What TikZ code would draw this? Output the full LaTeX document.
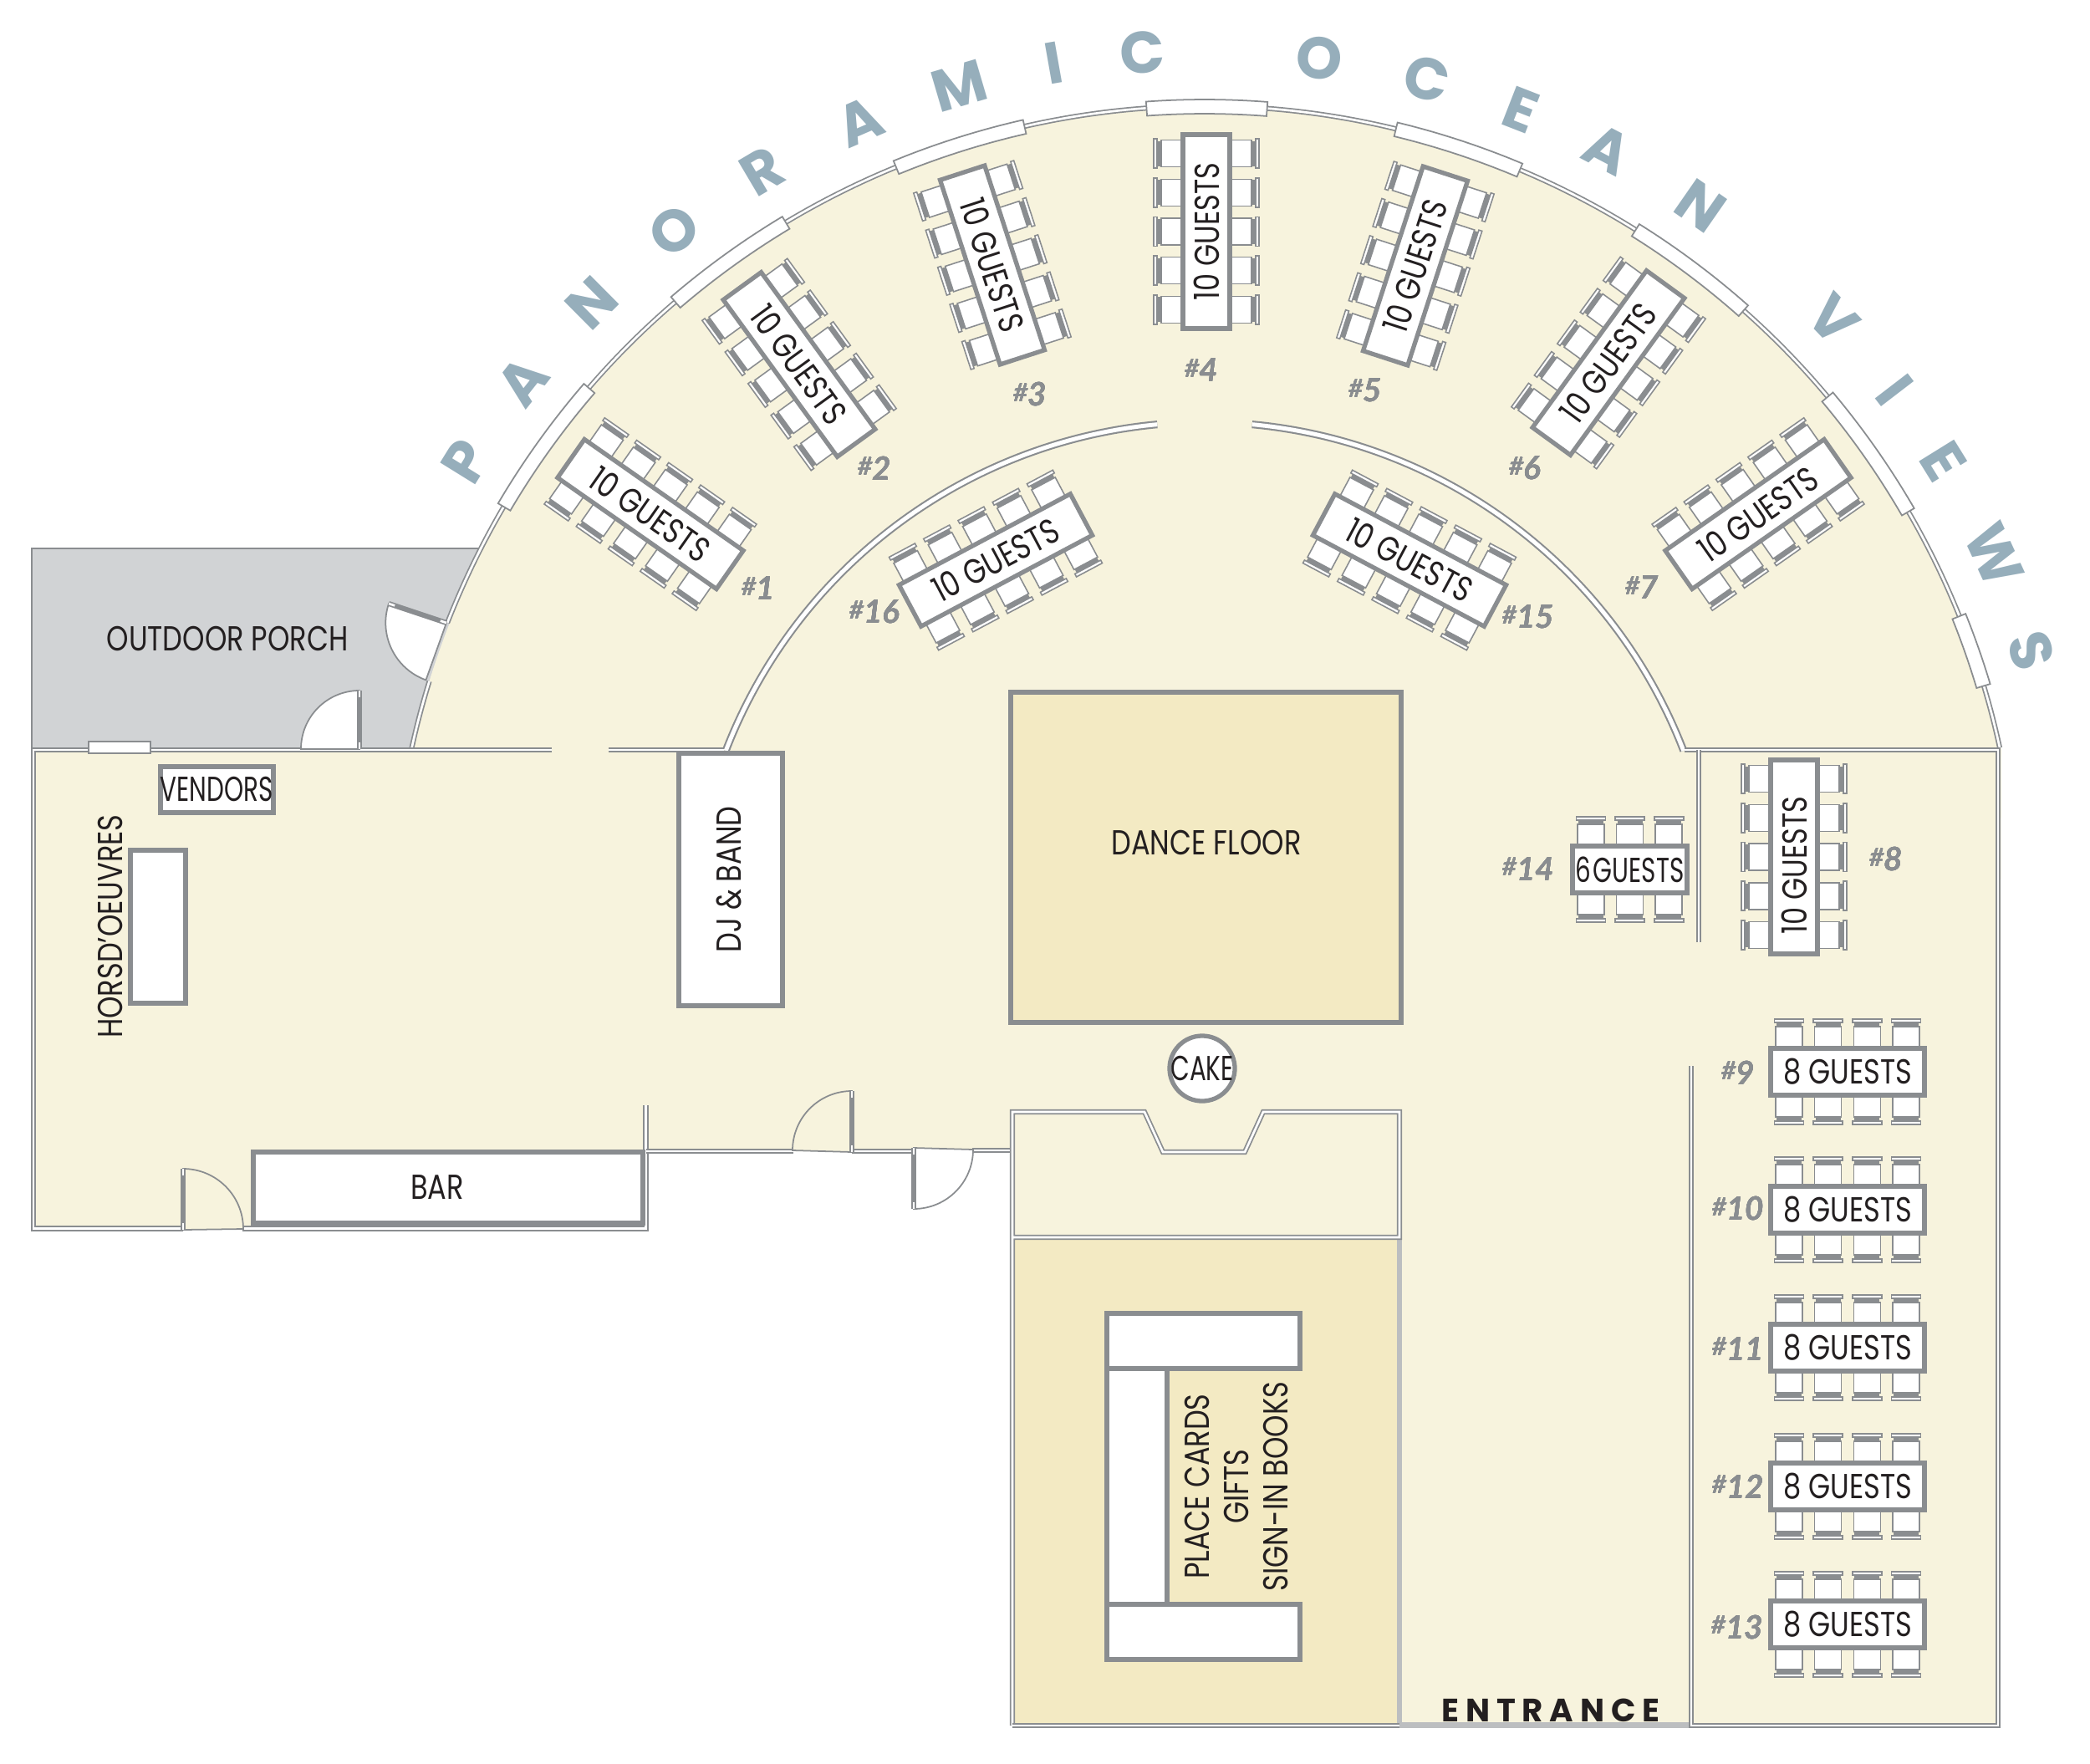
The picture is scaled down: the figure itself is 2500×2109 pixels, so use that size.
\documentclass[tikz,border=0pt]{standalone}
\usepackage{fontspec}
\usepackage{xcolor}
\usepackage{tikz}
\setmainfont{Lato}
\newfontfamily\labelfont[FakeStretch=0.81]{Poppins}
\newfontfamily\tightfont[FakeStretch=0.71]{Poppins}
\newfontfamily\numfont{Lato}
\newfontfamily\titlefont{Poppins}
\definecolor{cream}{HTML}{F7F3DD}
\definecolor{sand}{HTML}{F3EAC3}
\definecolor{wallgray}{HTML}{8A8D90}
\definecolor{paleline}{HTML}{BCBEC0}
\definecolor{porchgray}{HTML}{D1D3D5}
\definecolor{oceanteal}{HTML}{96AEBB}
\definecolor{ink}{HTML}{231F20}
\tikzset{
  wall/.style={draw=wallgray, line width=.5pt, double=white, double distance=.75pt},
  thickwall/.style={draw=wallgray, line width=.6pt, double=white, double distance=1.4pt},
  paleedge/.style={draw=paleline, line width=1.8pt},
  pane/.style={draw=wallgray, fill=white, line width=.5pt},
  doorleaf/.style={draw=wallgray, line width=.5pt},
  furniture/.style={draw=wallgray, fill=white, line width=1.5pt},
  seatpad/.style={draw=wallgray, fill=white, line width=.45pt},
  seatrail/.style={draw=wallgray, fill=white, line width=.45pt},
  roomtext/.style={text=ink, inner sep=0pt, font=\labelfont\fontsize{11.8}{13.4}\selectfont},
  tablebox/.style={furniture, text=ink, inner sep=0pt, minimum height=.56cm,
    font=\labelfont\fontsize{11.8}{14}\selectfont},
  tablenum/.style={text=wallgray, inner sep=0pt, font=\numfont\bfseries\itshape\fontsize{11}{13}\selectfont},
  titleletter/.style={text=oceanteal, inner sep=0pt, font=\titlefont\bfseries\fontsize{20}{22}\selectfont},
  chair/.pic={
    \draw[seatpad] (-16,0) rectangle (16,26);
    \fill[wallgray] (-15,26) rectangle (15,31);
    \draw[seatrail] (-17.5,31) rectangle (17.5,35);
  }
}
\newcommand{\swingdoor}[6]{% hinge, leaf end, start angle, end angle, radius, fill
  \draw[doorleaf, fill=#6] #1 -- #2 arc[start angle=#3, end angle=#4, radius=#5] -- cycle;
  \draw[wall] #1 -- #2;
  \draw[wallgray, line width=1.2pt, shorten >=2.2pt, shorten <=2.2pt] #1 -- #2;
}
\newcommand{\guesttable}[7]{% name, x, y, turn, chairs a side, length, label
  \begin{scope}[shift={(#2,#3)}, rotate=#4]
    \foreach \k in {1,...,#5} {
      \pic[transform shape] at ({(\k-(#5+1)/2)*46.7},28) {chair};
      \pic[transform shape, yscale=-1] at ({(\k-(#5+1)/2)*46.7},-28) {chair};
    }
    \node[tablebox, minimum width={#6*0.01cm}, rotate=-#4] (#1) at (0,0) {#7};
  \end{scope}
}
\newcommand{\numtag}[1]{{\fontsize{8.5}{10}\selectfont\raisebox{.35ex}{\#}}#1}
\begin{document}
\begin{tikzpicture}[x=0.01cm, y=0.01cm, yscale=-1]
  \useasboundingbox (0,0) rectangle (2500,2109);
  % floors
  \fill[porchgray] (38,656) -- (574,656) -- (492,897) -- (38,897) -- cycle;
  \draw[wallgray, line width=.55pt] (574,656) -- (38,656) -- (38,897);
  \fill[cream] (40,897) -- (492,897) arc[start angle=-167.8, end angle=-12.2, radius=973]
    -- (2390,2064) -- (1211,2064) -- (1211,1377) -- (772,1377) -- (772,1469) -- (40,1469) -- cycle;
  \fill[sand] (1211,1480) rectangle (1674,2064);
  \draw[paleedge] (1674,1483) -- (1674,2067);
  \draw[paleedge] (1674,2063.5) -- (2023,2063.5);
  % outer arc and windows
  \draw[wall] (492,897) arc[start angle=-167.8, end angle=-162.8, radius=973];
  \draw[wall] ([shift={(-158.6:973)}]1441,1100) arc[start angle=-158.6, end angle=-12.2, radius=973];
  \foreach \from/\to in {-4.1/4.4, 13.6/22.8, 32/41.5, 50/59.9, 68.1/73.3, -22.3/-12.8, -40.6/-31, -59.5/-49.2}
    \draw[pane] ([shift={(\from-90:981)}]1441,1100) arc[start angle=\from-90, end angle=\to-90, radius=981]
      -- ([shift={(\to-90:964)}]1441,1100) arc[start angle=\to-90, end angle=\from-90, radius=964] -- cycle;
  % inner arc
  \draw[thickwall] ([shift={(-158.9:614)}]1441,1119) arc[start angle=-158.9, end angle=-95.3, radius=614];
  \draw[thickwall] ([shift={(-84.7:614)}]1441,1119) arc[start angle=-84.7, end angle=-21.1, radius=614];
  % walls
  \draw[wall] (660,897) -- (40,897) -- (40,1469.5) -- (219,1469.5);
  \draw[wall] (290,1469.5) -- (772.5,1469.5) -- (772.5,1322);
  \draw[wall] (728,897) -- (866,897);
  \draw[wall] (772.5,1377) -- (949,1377);
  \draw[wall] (1019,1377) -- (1093,1377);
  \draw[wall] (1163,1376) -- (1211,1376);
  \draw[wall] (1211,2064) -- (1211,1330) -- (1369,1330) -- (1391,1378) -- (1489,1378)
    -- (1511,1330) -- (1674,1330) -- (1674,1480) -- (1211,1480);
  \draw[wall] (1211,2064) -- (1674,2064);
  \draw[wall] (2015,897) -- (2390,897) -- (2390,2064) -- (2023,2064) -- (2023,1275);
  \draw[wall] (2032,897) -- (2032,1127);
  \draw[pane] (106,887) rectangle (180,901);
  % doors
  \swingdoor{(430,896)}{(430,826)}{-90}{-180}{70}{white}
  \swingdoor{(534,745)}{(465,722)}{198.4}{109.7}{72.7}{white}
  \swingdoor{(219,1471)}{(219,1398)}{-90}{0}{72}{cream}
  \swingdoor{(1019,1378)}{(1019,1305)}{-90}{-180}{71}{cream}
  \swingdoor{(1093,1373)}{(1093,1446)}{90}{0}{71}{white}
  % fixed furniture
  \draw[furniture, fill=sand] (1209,828) rectangle (1676,1223);
  \node[furniture, circle, minimum size=.78cm, inner sep=0pt] (cake) at (1438,1278) {};
  \draw[furniture] (303,1378) rectangle (769,1463);
  \draw[furniture] (192,917) rectangle (327,972);
  \draw[furniture] (156,1017) rectangle (222,1200);
  \draw[furniture] (812,901) rectangle (936,1203);
  \draw[furniture] (1324,1637) rectangle (1396,1919);
  \draw[furniture] (1324,1571) rectangle (1555,1637);
  \draw[furniture] (1324,1919) rectangle (1555,1985);
  % guest tables
  \guesttable{table1}{778}{615}{35}{5}{232}{10 GUESTS}
  \guesttable{table2}{956}{436}{54}{5}{232}{10 GUESTS}
  \guesttable{table3}{1187}{317}{72}{5}{232}{10 GUESTS}
  \guesttable{table4}{1443}{277}{-90}{5}{232}{10 GUESTS}
  \guesttable{table5}{1693}{318}{-72}{5}{232}{10 GUESTS}
  \guesttable{table6}{1924}{434}{-54}{5}{232}{10 GUESTS}
  \guesttable{table7}{2103}{615}{-35}{5}{232}{10 GUESTS}
  \guesttable{table8}{2146}{1025}{-90}{5}{232}{10 GUESTS\hspace*{.2cm}}
  \guesttable{table15}{1686}{670}{28}{5}{232}{10 GUESTS}
  \guesttable{table16}{1191}{670}{-28}{5}{232}{10 GUESTS}
  \foreach \tname/\ty in {table9/1282, table10/1447, table11/1612, table12/1778, table13/1943}
    \guesttable{\tname}{2210}{\ty}{0}{4}{184}{\raisebox{-1pt}{8 GUESTS}}
  \guesttable{table14}{1949.5}{1040}{0}{3}{137}{\raisebox{-1pt}{\tightfont\fontsize{11.8}{14}\selectfont 6\hspace{.06em}GUESTS}}
  % table numbers
  \foreach \num/\nx/\ny in {1/907/704, 2/1046/560, 3/1232/472, 4/1437/443, 5/1633/467, 6/1824/560,
      7/1964/703, 8/2256/1028, 9/2079/1283, 10/2079/1446, 11/2079/1613, 12/2079/1778, 13/2078/1946,
      14/1828/1039, 15/1828/738, 16/1046/732}
    \node[tablenum] (num\num) at (\nx,\ny) {\numtag{\num}};
  % room labels
  \node[roomtext] (porch) at (272,764) {OUTDOOR PORCH};
  \node[roomtext, font=\tightfont\fontsize{11.8}{14}\selectfont] (vendors) at (259,944) {VENDORS};
  \node[roomtext, rotate=90] (hors) at (132,1108) {HORSD’OEUVRES};
  \node[roomtext] (bar) at (523,1420) {BAR};
  \node[roomtext, rotate=90] (band) at (872,1052) {DJ \& BAND};
  \node[roomtext] (dance) at (1443,1008) {DANCE FLOOR};
  \node[roomtext, font=\tightfont\fontsize{11.8}{14}\selectfont] (caketext) at (cake) {CAKE};
  \node[roomtext, rotate=90, align=center] (signin) at (1479,1778) {PLACE CARDS\\GIFTS\\SIGN-IN BOOKS};
  \node[roomtext, font=\titlefont\bfseries\fontsize{11}{13}\selectfont\addfontfeature{LetterSpace=20}] (entrance) at (1855,2046) {ENTRANCE};
  % ocean title
  \foreach \letter/\ang [count=\i] in {P/-58.2, A/-51.7, N/-44.8, O/-37.6, R/-30.6, A/-23.4, M/-16.4, I/-10,
      C/-4.1, O/7.6, C/14.8, E/21.3, A/27.6, N/34.8, V/46.3, I/52.5, E/58.2, W/65.2, S/72}
    \node[titleletter, rotate=-\ang] (letter\i) at ([shift={(\ang-90:1040)}]1441,1100) {\letter};
\end{tikzpicture}
\end{document}
